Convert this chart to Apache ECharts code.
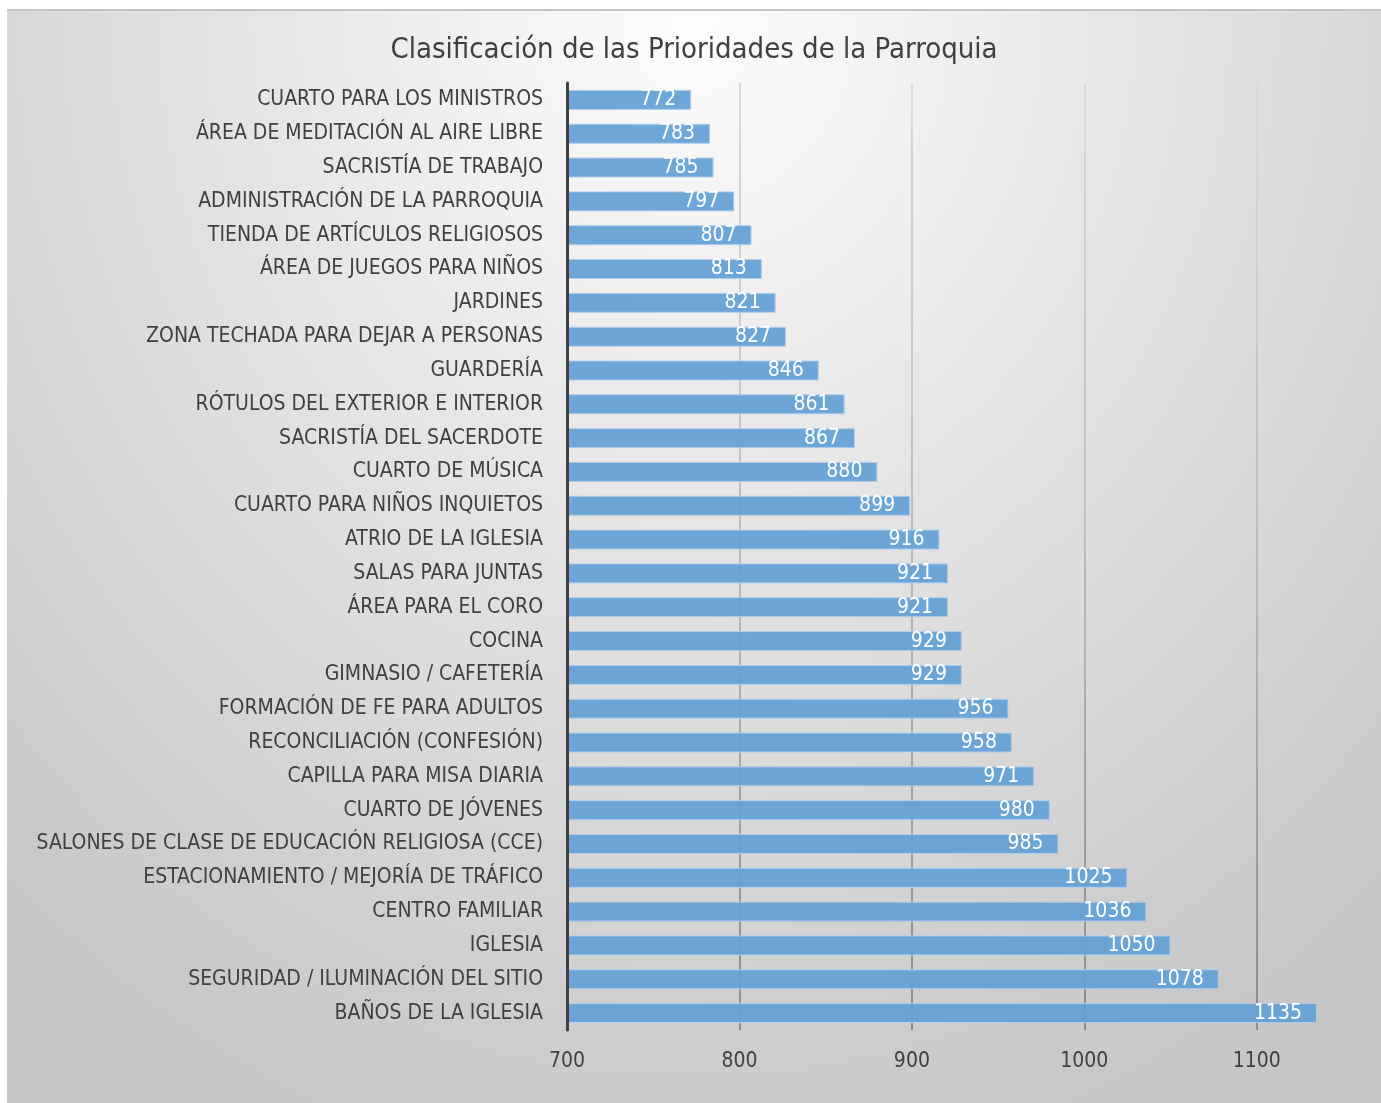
<!DOCTYPE html>
<html>
<head>
<meta charset="utf-8">
<script src="https://cdn.jsdelivr.net/npm/echarts@6/dist/echarts.min.js"></script>
<style>
  html, body { margin: 0; padding: 0; background: #ffffff; }
  #chart {
    position: absolute;
    left: 7px;
    top: 9px;
    width: 1374px;
    height: 1094px;
    border-top: 2px solid #c4c4c4;
    box-sizing: border-box;
    background: radial-gradient(ellipse 75% 110% at 50% 0%, #fdfdfd 0%, #e4e4e4 45%, #c6c6c6 100%);
  }
</style>
</head>
<body>
<div id="chart"></div>
<script>
(function() {
    const title = 'Clasificación de las Prioridades de la Parroquia';
    const categories = [
      'CUARTO PARA LOS MINISTROS',
      'ÁREA DE MEDITACIÓN AL AIRE LIBRE',
      'SACRISTÍA DE TRABAJO',
      'ADMINISTRACIÓN DE LA PARROQUIA',
      'TIENDA DE ARTÍCULOS RELIGIOSOS',
      'ÁREA DE JUEGOS PARA NIÑOS',
      'JARDINES',
      'ZONA TECHADA PARA DEJAR A PERSONAS',
      'GUARDERÍA',
      'RÓTULOS DEL EXTERIOR E INTERIOR',
      'SACRISTÍA DEL SACERDOTE',
      'CUARTO DE MÚSICA',
      'CUARTO PARA NIÑOS INQUIETOS',
      'ATRIO DE LA IGLESIA',
      'SALAS PARA JUNTAS',
      'ÁREA PARA EL CORO',
      'COCINA',
      'GIMNASIO / CAFETERÍA',
      'FORMACIÓN DE FE PARA ADULTOS',
      'RECONCILIACIÓN (CONFESIÓN)',
      'CAPILLA PARA MISA DIARIA',
      'CUARTO DE JÓVENES',
      'SALONES DE CLASE DE EDUCACIÓN RELIGIOSA (CCE)',
      'ESTACIONAMIENTO / MEJORÍA DE TRÁFICO',
      'CENTRO FAMILIAR',
      'IGLESIA',
      'SEGURIDAD / ILUMINACIÓN DEL SITIO',
      'BAÑOS DE LA IGLESIA'
    ];
    const values = [772,783,785,797,807,813,821,827,846,861,867,880,899,916,921,921,929,929,956,958,971,980,985,1025,1036,1050,1078,1135];
    const xTicks = [700, 800, 900, 1000, 1100];

    const font = '"DejaVu Sans Condensed", "Liberation Sans Narrow", sans-serif';
    const chart = echarts.init(document.getElementById('chart'));

    const option = {
      animation: false,
      textStyle: { fontFamily: font },
      title: {
        text: title,
        left: 'center',
        top: 20,
        textStyle: {
          fontFamily: font,
          fontSize: 29,
          fontWeight: 'normal',
          color: '#404040'
        }
      },
      grid: {
        left: 560,
        right: 38,
        top: 72,
        bottom: 73,
        containLabel: false,
        outerBoundsMode: 'none'
      },
      xAxis: {
        type: 'value',
        min: 700,
        max: 1150,
        interval: 100,
        axisLine: { show: false },
        axisTick: { show: false },
        axisLabel: {
          fontSize: 21,
          color: '#404040',
          margin: 21,
          showMaxLabel: false,
          formatter: (v) => xTicks.includes(v) ? String(v) : ''
        },
        splitLine: {
          show: true,
          showMinLine: false,
          showMaxLine: false,
          lineStyle: {
            width: 2,
            color: new echarts.graphic.LinearGradient(0, 72, 0, 1020, [
              { offset: 0, color: '#dadada' },
              { offset: 0.5, color: '#bcbcbc' },
              { offset: 1, color: '#8a8a8a' }
            ], true)
          }
        }
      },
      yAxis: {
        type: 'category',
        data: categories,
        inverse: true,
        z: 5,
        axisLine: { show: true, lineStyle: { color: '#404040', width: 3 } },
        axisTick: { show: false },
        axisLabel: {
          fontSize: 21,
          color: '#404040',
          margin: 24
        }
      },
      series: [
        {
          type: 'bar',
          data: values,
          barWidth: 20,
          itemStyle: {
            color: 'rgba(102,160,214,0.94)',
            borderColor: '#b0cdea',
            borderWidth: 1
          },
          label: {
            show: true,
            position: 'insideRight',
            distance: 15,
            color: '#ffffff',
            fontSize: 21,
            fontFamily: font
          }
        }
      ]
    };

    chart.setOption(option);
    window.addEventListener('resize', () => chart.resize());
})();
</script>
</body>
</html>
